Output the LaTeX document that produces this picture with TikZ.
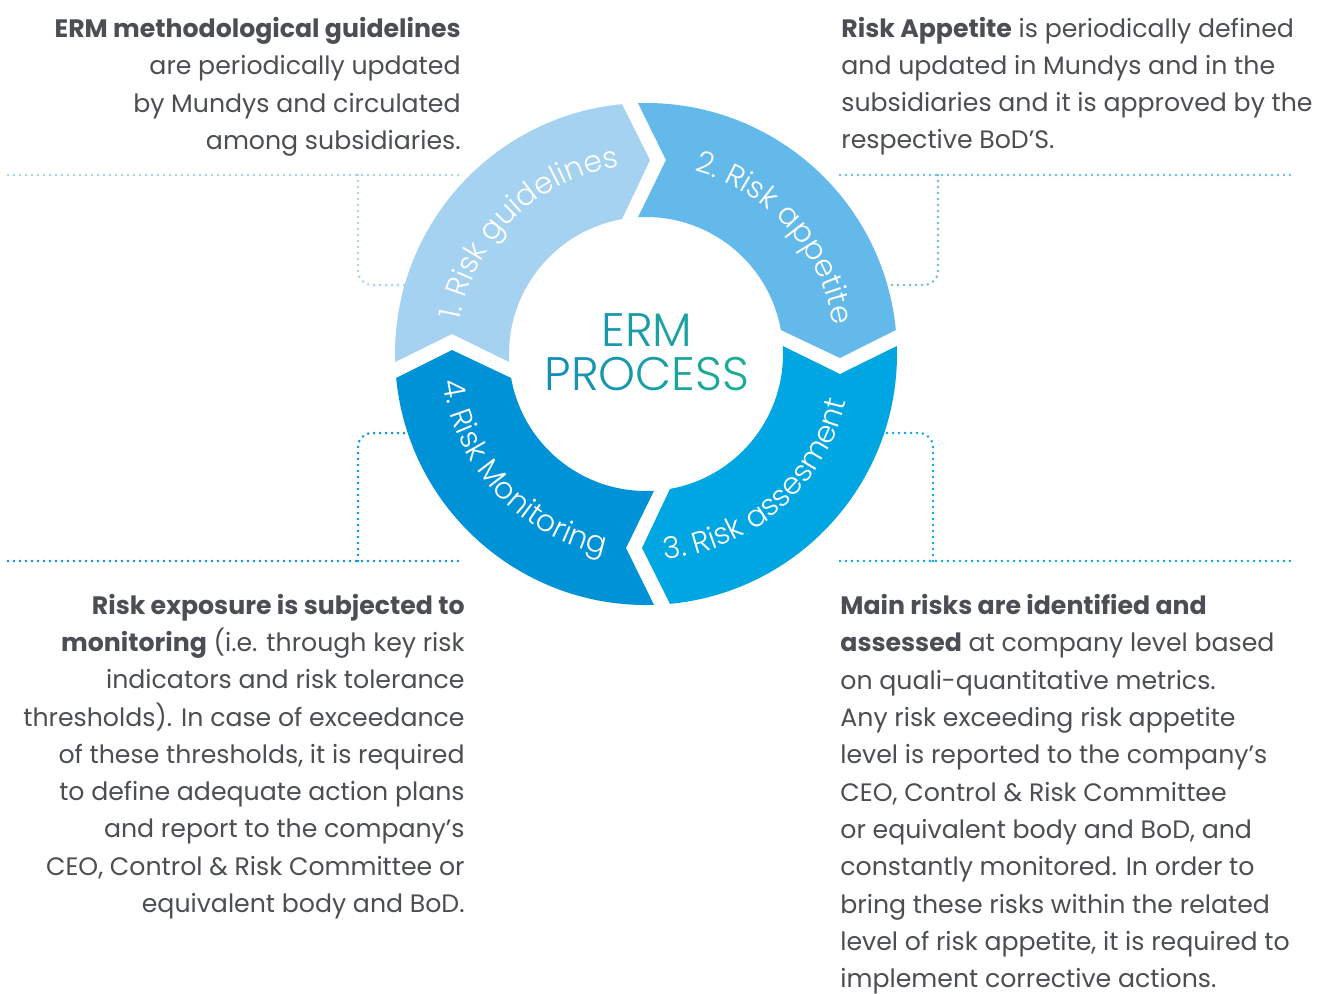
\documentclass[tikz,border=0pt]{standalone}
\usepackage{fontspec}
\setmainfont{Poppins}
\newfontfamily\hubfont{Poppins Light}
\usetikzlibrary{decorations.text}
\definecolor{cpartA}{HTML}{A5D2F1}
\definecolor{cpartB}{HTML}{63B9E9}
\definecolor{cpartC}{HTML}{00A6E1}
\definecolor{cpartD}{HTML}{0092D7}
\definecolor{cink}{HTML}{4B4E52}
\definecolor{ctealA}{HTML}{168DB8}
\definecolor{ctealB}{HTML}{1CAE94}
\newcommand{\ringfont}{\hubfont\fontsize{15}{15}\selectfont}
% one quarter of the ring, notched tail and pointed head, turned by #1
\newcommand{\ringpart}[2]{%
  \fill[#2, rotate=#1] (181.83:251) -- (-194,20) -- (183.35:137)
    arc[start angle=183.35, end angle=100.09, radius=137]
    -- (4,194) -- (95.49:251)
    arc[start angle=95.49, end angle=181.83, radius=251] -- cycle;}
\newcommand{\tealchar}[2]{\textcolor{ctealB!#1!ctealA}{#2}}

\begin{document}
\begin{tikzpicture}[x=0.5pt, y=0.5pt,
    note/.style={font=\fontsize{12.6}{18.65}\selectfont, text=cink, inner sep=0pt},
    leader/.style={line width=1.4pt, line cap=round, dash pattern=on 0pt off 3pt},
    ringlabel/.style={decorate, decoration={text along path, text align=center,
                      text color=white, text={|\ringfont|#1}}},
    hub/.style={font=\hubfont\fontsize{23.5}{22}\selectfont, align=center, inner sep=0pt},
  ]
  \path[use as bounding box, fill=white] (0,0) rectangle (1318,-993);
  % == leader lines, drawn first so the ring covers their ends
  \coordinate (gl-a) at (8,-175);   \coordinate (gl-b) at (462,-175);
  \coordinate (gl-c) at (358,-175); \coordinate (gl-d) at (410,-285);
  \draw[leader, draw=cpartA] (gl-a) -- (gl-b);
  \draw[leader, draw=cpartA, rounded corners=7pt] (gl-c) |- (gl-d);
  \coordinate (ap-a) at (840,-175);  \coordinate (ap-b) at (1295,-175);
  \coordinate (ap-c) at (938,-175);  \coordinate (ap-d) at (882,-285);
  \draw[leader, draw=cpartB] (ap-a) -- (ap-b);
  \draw[leader, draw=cpartB, rounded corners=7pt] (ap-c) |- (ap-d);
  \coordinate (mo-a) at (8,-561);   \coordinate (mo-b) at (462,-561);
  \coordinate (mo-c) at (358,-561); \coordinate (mo-d) at (412,-433);
  \draw[leader, draw=cpartD] (mo-a) -- (mo-b);
  \draw[leader, draw=cpartD, rounded corners=7pt] (mo-c) |- (mo-d);
  \coordinate (as-a) at (840,-561);  \coordinate (as-b) at (1295,-561);
  \coordinate (as-c) at (933,-561);  \coordinate (as-d) at (880,-433);
  \draw[leader, draw=cpartC] (as-a) -- (as-b);
  \draw[leader, draw=cpartC, rounded corners=7pt] (as-c) |- (as-d);
  % == the ring of four steps
  \begin{scope}[shift={(646,-354)}]
    \ringpart{0}{cpartA}
    \ringpart{-90}{cpartB}
    \ringpart{-180}{cpartC}
    \ringpart{-270}{cpartD}
    \path[ringlabel={1. Risk guidelines}] (194:189) arc[start angle=194, end angle=74, radius=189];
    \path[ringlabel={2. Risk appetite}] (102:189) arc[start angle=102, end angle=-18, radius=189];
    \path[ringlabel={3. Risk assesment}] (-114:206) arc[start angle=-114, end angle=16, radius=206];
    \path[ringlabel={4. Risk Monitoring}] (158:205) arc[start angle=158, end angle=288, radius=205];
  \end{scope}
  \node[hub] (erm) at (647,-352)
    {\tealchar{31}{E}\tealchar{46}{R}\tealchar{64}{M}\\
     \tealchar{5}{P}\tealchar{20}{R}\tealchar{37}{O}\tealchar{55}{C}\tealchar{70}{E}\tealchar{83}{S}\tealchar{96}{S}};
  % == the four notes
  \node[note, align=right, anchor=north east] (guidetxt) at (461,-17)
    {\textbf{ERM methodological guidelines}\\
     are periodically updated\\
     by Mundys and circulated\\
     among subsidiaries.};
  \node[note, align=left, anchor=north west] (appetitetxt) at (841,-16.5)
    {\textbf{Risk Appetite} is periodically defined\\
     and updated in Mundys and in the\\
     subsidiaries and it is approved by the\\
     respective BoD’S.};
  \node[note, align=right, anchor=north east] (monitortxt) at (465,-593.5)
    {\textbf{Risk exposure is subjected to}\\
     \textbf{monitoring} (i.e. through key risk\\
     indicators and risk tolerance\\
     thresholds). In case of exceedance\\
     of these thresholds, it is required\\
     to define adequate action plans\\
     and report to the company’s\\
     CEO, Control \& Risk Committee or\\
     equivalent body and BoD.};
  \node[note, align=left, anchor=north west] (assesstxt) at (840,-594)
    {\textbf{Main risks are identified and}\\
     \textbf{assessed} at company level based\\
     on quali-quantitative metrics.\\
     Any risk exceeding risk appetite\\
     level is reported to the company’s\\
     CEO, Control \& Risk Committee\\
     or equivalent body and BoD, and\\
     constantly monitored. In order to\\
     bring these risks within the related\\
     level of risk appetite, it is required to\\
     implement corrective actions.};
\end{tikzpicture}
\end{document}
